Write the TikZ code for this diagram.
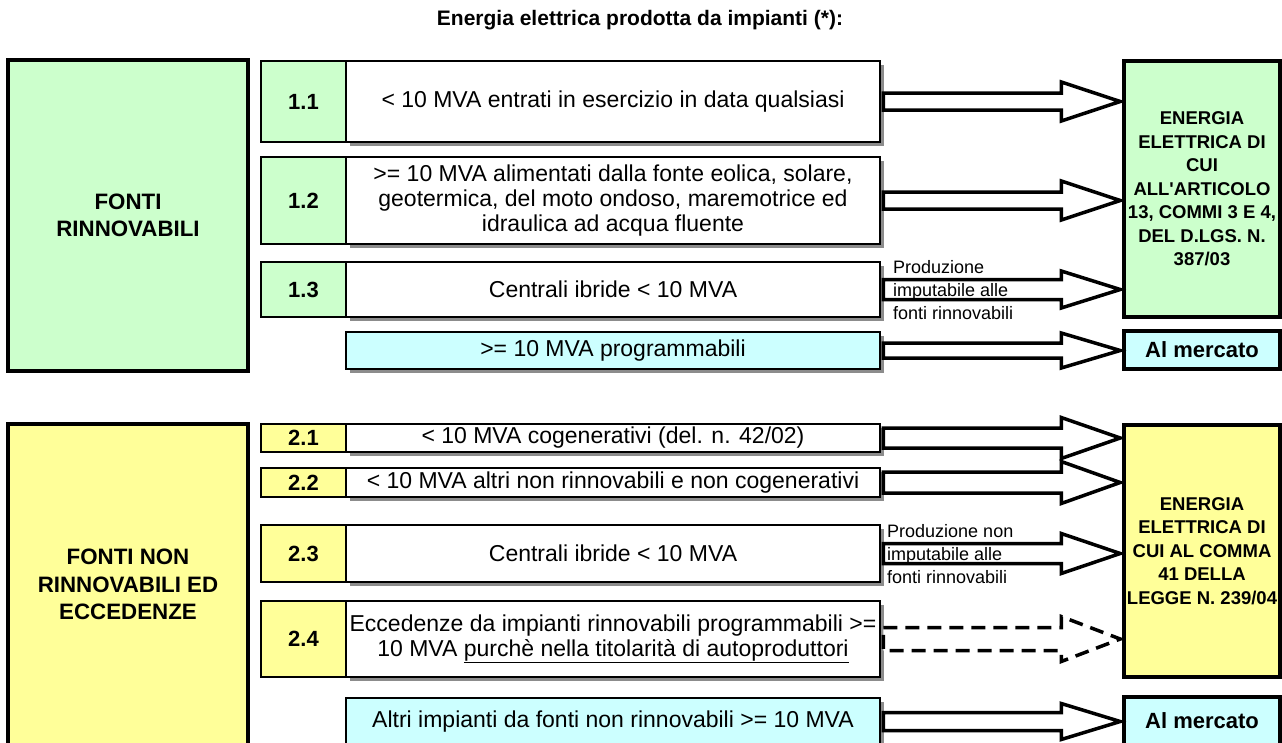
\documentclass[tikz,border=0pt]{standalone}
\usepackage{fontspec}
\setmainfont{Liberation Sans}
\usetikzlibrary{shadows,calc}
\definecolor{lgreen}{HTML}{CCFFCC}
\definecolor{lyellow}{HTML}{FFFF99}
\definecolor{lcyan}{HTML}{CCFFFF}
\definecolor{shadowgray}{HTML}{8C8C8C}
\newcommand\fbody{\fontsize{23pt}{25pt}\selectfont}
\newcommand\fnum{\fontsize{22pt}{24.5pt}\selectfont\bfseries}
\newcommand\fbig{\fontsize{22.3pt}{27.5pt}\selectfont\bfseries}
\newcommand\fright{\fontsize{18.5pt}{23.5pt}\selectfont\bfseries}
\newcommand\fsmall{\fontsize{18pt}{23pt}\selectfont}
\newcommand\straightquote{\XeTeXglyph\the\XeTeXcharglyph"27\relax}
\newcommand\blockarrow[5]{%
  \draw[#1] let \p1=(#2), \p2=(#3) in
    ({\x1+2pt},{\y1+#4pt}) -- ({\x2-61pt},{\y1+#4pt}) -- ({\x2-61pt},{\y1+#5pt})
    -- ({\x2-2pt},\y1) -- ({\x2-61pt},{\y1-#5pt}) -- ({\x2-61pt},{\y1-#4pt})
    -- ({\x1+2pt},{\y1-#4pt}) -- cycle;}
\begin{document}
\begin{tikzpicture}[x=1pt,y=-1pt,
  box/.style={draw, line width=2.5pt, inner sep=0pt, align=center, font=\fbody},
  numbox/.style={box, minimum width=85pt, font=\fnum},
  txtbox/.style={box, minimum width=534pt, fill=white,
    drop shadow={shadow xshift=3.5pt, shadow yshift=-3.5pt, fill=shadowgray, opacity=1}},
  bigbox/.style={draw, line width=3.5pt, inner sep=0pt, align=center, minimum width=240pt, font=\fbig},
  destbox/.style={draw, line width=3.5pt, inner sep=0pt, align=center, minimum width=156pt, font=\fright},
  mktbox/.style={destbox, fill=lcyan, font=\fnum},
  barrow/.style={draw, line width=3.5pt, fill=white, line join=miter},
  darrow/.style={barrow, dash pattern=on 14pt off 8pt},
  lbl/.style={anchor=west, align=left, inner sep=0pt, font=\fsmall}
]
\useasboundingbox (0,0) rectangle (1282,742);

\node[font=\fontsize{21pt}{24pt}\selectfont\bfseries] (title) at (640,20) {Energia elettrica prodotta da impianti (*):};

% ---------- section 1
\node[bigbox, fill=lgreen, minimum height=311pt] (L1) at (128,215.5) {FONTI\\RINNOVABILI};

\node[txtbox, minimum height=81pt] (t11) at (613,101.5) {< 10 MVA entrati in esercizio in data qualsiasi};
\node[numbox, fill=lgreen, minimum height=81pt] (n11) at (303.5,101.5) {1.1};

\node[txtbox, minimum height=87pt] (t12) at (613,200.5) {>= 10 MVA alimentati dalla fonte eolica, solare,\\geotermica, del moto ondoso, maremotrice ed\\idraulica ad acqua fluente};
\node[numbox, fill=lgreen, minimum height=87pt] (n12) at (303.5,200.5) {1.2};

\node[txtbox, minimum height=55pt] (t13) at (613,289.5) {Centrali ibride < 10 MVA};
\node[numbox, fill=lgreen, minimum height=55pt] (n13) at (303.5,289.5) {1.3};

\node[txtbox, fill=lcyan, minimum height=37pt] (p1) at (613,350.5) {>= 10 MVA programmabili};

\node[destbox, fill=lgreen, minimum height=256pt] (E1) at (1202,189) {ENERGIA\\ELETTRICA DI\\CUI\\ALL\straightquote ARTICOLO\\13, COMMI 3 E 4,\\DEL D.LGS. N.\\387/03};
\node[mktbox, minimum height=38pt] (M1) at (1202,350) {Al mercato};

\blockarrow{barrow}{t11.east}{E1.west}{8.5}{19.5}
\blockarrow{barrow}{t12.east}{E1.west}{8.5}{19.5}
\blockarrow{barrow}{t13.east}{E1.west}{10}{18.5}
\blockarrow{barrow}{p1.east}{M1.west}{7.5}{17.5}

\node[lbl] (lab1) at (893,290) {Produzione\\imputabile alle\\fonti rinnovabili};

% ---------- section 2
\node[bigbox, fill=lyellow, minimum height=321pt] (L2) at (128,584.5) {FONTI NON\\RINNOVABILI ED\\ECCEDENZE};

\node[txtbox, minimum height=28pt] (t21) at (613,438) {< 10 MVA cogenerativi (del. n. 42/02)};
\node[numbox, fill=lyellow, minimum height=28pt] (n21) at (303.5,438) {2.1};

\node[txtbox, minimum height=29pt] (t22) at (613,482.5) {< 10 MVA altri non rinnovabili e non cogenerativi};
\node[numbox, fill=lyellow, minimum height=29pt] (n22) at (303.5,482.5) {2.2};

\node[txtbox, minimum height=57pt] (t23) at (613,553.5) {Centrali ibride < 10 MVA};
\node[numbox, fill=lyellow, minimum height=57pt] (n23) at (303.5,553.5) {2.3};

\node[txtbox, minimum height=76pt] (t24) at (613,639) {Eccedenze da impianti rinnovabili programmabili >=\\10 MVA \underline{purchè nella titolarità di autoproduttori}};
\node[numbox, fill=lyellow, minimum height=76pt] (n24) at (303.5,639) {2.4};

\node[txtbox, fill=lcyan, minimum height=47pt] (p2) at (613,721.5) {Altri impianti da fonti non rinnovabili >= 10 MVA};

\node[destbox, fill=lyellow, minimum height=252pt] (E2) at (1202,551) {ENERGIA\\ELETTRICA DI\\CUI AL COMMA\\41 DELLA\\LEGGE N. 239/04};
\node[mktbox, minimum height=48pt] (M2) at (1202,721) {Al mercato};

\blockarrow{barrow}{t21.east}{E2.west}{10}{20.5}
\blockarrow{barrow}{t22.east}{E2.west}{10.5}{21}
\blockarrow{barrow}{t23.east}{E2.west}{10}{20}
\blockarrow{darrow}{t24.east}{E2.west}{11.5}{22.5}
\blockarrow{barrow}{p2.east}{M2.west}{9}{18}

\node[lbl] (lab2) at (887,554) {Produzione non\\imputabile alle\\fonti rinnovabili};
\end{tikzpicture}
\end{document}
